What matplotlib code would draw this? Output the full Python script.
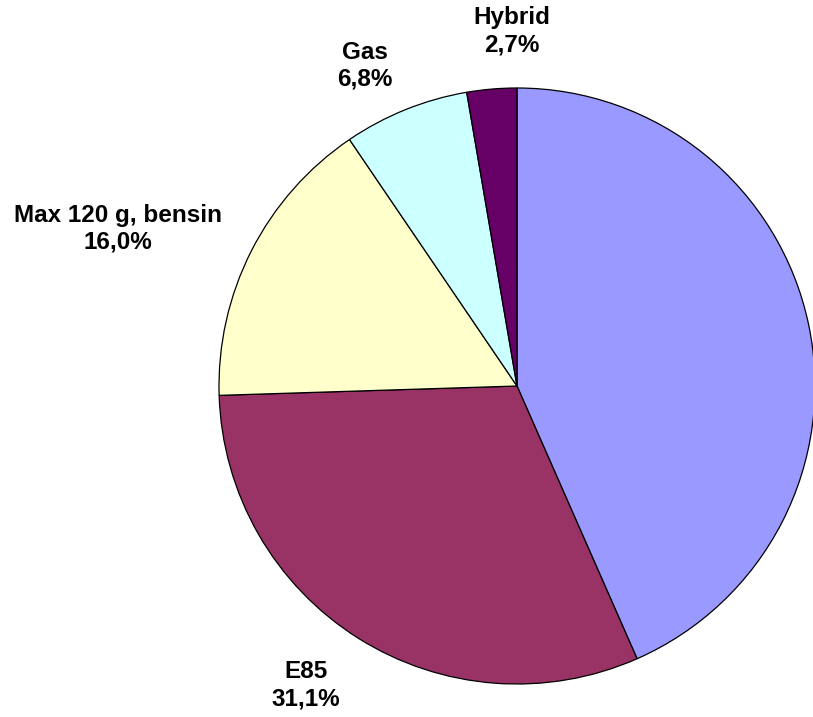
import numpy as np
import matplotlib
matplotlib.use('Agg')
import matplotlib.pyplot as plt

# Share of new registrations by fuel type (blue slice label is outside the picture)
categories = ['', 'E85', 'Max 120 g, bensin', 'Gas', 'Hybrid']
shares = [43.4, 31.1, 16.0, 6.8, 2.7]
colors = ['#9999FF', '#993366', '#FFFFCC', '#CCFFFF', '#660066']

# label placement: distance from centre (in radii) and small angle nudge
label_dist = [1.2, 1.23, 1.44, 1.19, 1.19]
label_nudge = [0, -3, 5.5, 3.5, -4]

fig = plt.figure(figsize=(8.13, 7.17), dpi=100)
fig.patch.set_facecolor('white')
ax = fig.add_axes([0, 0, 1, 1])

wedges, _ = ax.pie(shares, colors=colors, startangle=90, counterclock=False,
                   radius=1.0,
                   wedgeprops=dict(edgecolor='black', linewidth=0.9))

for w, name, val, d, nud in zip(wedges, categories, shares, label_dist, label_nudge):
    if not name:
        continue
    mid = np.deg2rad((w.theta1 + w.theta2) / 2 + nud)
    ax.text(d * np.cos(mid), d * np.sin(mid),
            f"{name}\n{val:.1f}%".replace('.', ','),
            ha='center', va='center', fontsize=17.5, fontweight='bold',
            family='Liberation Sans', linespacing=1.22)

# pie centre at pixel (517, 386), radius 298 px
r_px = 298.0
ax.set_xlim(-517 / r_px, (813 - 517) / r_px)
ax.set_ylim(-(717 - 386) / r_px, 386 / r_px)
ax.set_aspect('auto')
ax.axis('off')

plt.savefig('out.png', dpi=100, facecolor='white')
plt.close()
